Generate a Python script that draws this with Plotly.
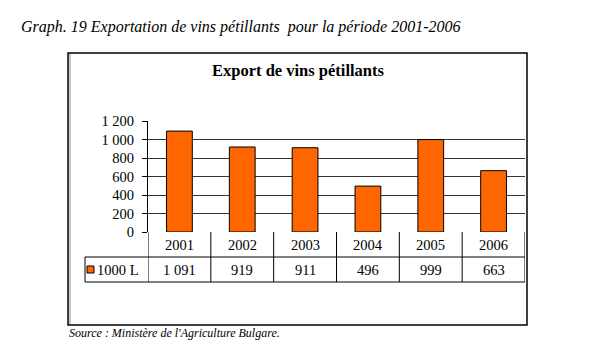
import plotly.graph_objects as go

years = [2001, 2002, 2003, 2004, 2005, 2006]
values = [1091, 919, 911, 496, 999, 663]
value_labels = ["1 091", "919", "911", "496", "999", "663"]
ytick_vals = [0, 200, 400, 600, 800, 1000, 1200]
ytick_text = ["0", "200", "400", "600", "800", "1 000", "1 200"]
series_name = "1000 L"
chart_title = "Export de vins pétillants"
caption = "Graph. 19 Exportation de vins pétillants  pour la période 2001-2006"
source = "Source : Ministère de l'Agriculture Bulgare."

OFF = 8  # page body margin
W, H = 595 - OFF, 355 - OFF
L, R, T, B = 148, 525, 121, 232   # plot area in reference pixels
pw, ph = R - L, B - T

def px(x):
    return (x - L) / pw

def py(y):
    return (B - y) / ph

FONT = "Liberation Serif"
ORANGE = "#FF6600"

fig = go.Figure()
fig.add_trace(go.Bar(x=years, y=values, width=0.41, marker=dict(color=ORANGE, line=dict(color="black", width=1)),
                     name=series_name, showlegend=False))

shapes = []
shapes.append(dict(type="rect", xref="paper", yref="paper", x0=px(68), x1=px(527), y0=py(325), y1=py(53),
                   line=dict(color="black", width=1.5), layer="below"))
shapes.append(dict(type="line", xref="paper", yref="paper", x0=px(70), x1=px(70), y0=py(324), y1=py(54),
                   line=dict(color="#b0b0b0", width=1.5)))
y_row1 = py(257)
y_row2 = py(282)
x_first = years[0] - 0.5
x_last = years[-1] + 0.5
shapes.append(dict(type="line", xref="paper", yref="paper", x0=px(85), x1=1.0, y0=y_row1, y1=y_row1,
                   line=dict(color="black", width=1)))
shapes.append(dict(type="line", xref="paper", yref="paper", x0=px(85), x1=1.0, y0=y_row2, y1=y_row2,
                   line=dict(color="black", width=1)))
shapes.append(dict(type="line", xref="paper", yref="paper", x0=px(85), x1=px(85), y0=y_row2, y1=y_row1,
                   line=dict(color="black", width=1)))
for yr in years:
    xb = yr - 0.5
    shapes.append(dict(type="line", xref="x", yref="paper", x0=xb, x1=xb, y0=y_row2, y1=0,
                       line=dict(color="black", width=1)))
shapes.append(dict(type="line", xref="x", yref="paper", x0=x_last, x1=x_last, y0=y_row2, y1=0,
                   line=dict(color="black", width=1)))
shapes.append(dict(type="rect", xref="paper", yref="paper", x0=px(87), x1=px(94), y0=py(273), y1=py(266),
                   fillcolor=ORANGE, line=dict(color="black", width=1)))

annotations = []
for yr, lab in zip(years, value_labels):
    annotations.append(dict(x=yr, y=(y_row1 + 0) / 2, xref="x", yref="paper", text=str(yr), showarrow=False,
                            font=dict(family=FONT, size=14.5, color="black"), xanchor="center", yanchor="middle"))
    annotations.append(dict(x=yr, y=(y_row1 + y_row2) / 2, xref="x", yref="paper", text=lab, showarrow=False,
                            font=dict(family=FONT, size=14.5, color="black"), xanchor="center", yanchor="middle"))
annotations.append(dict(x=px(95), y=(y_row1 + y_row2) / 2, xref="paper", yref="paper", text=series_name,
                        showarrow=False, font=dict(family=FONT, size=14.5, color="black"),
                        xanchor="left", yanchor="middle"))
annotations.append(dict(x=px(298), y=py(70), xref="paper", yref="paper", text="<b>" + chart_title + "</b>",
                        showarrow=False, font=dict(family=FONT, size=16.5, color="black"),
                        xanchor="center", yanchor="middle"))
annotations.append(dict(x=px(19), y=py(27), xref="paper", yref="paper", text="<i>" + caption + "</i>",
                        showarrow=False, font=dict(family=FONT, size=16, color="black"),
                        xanchor="left", yanchor="middle"))
annotations.append(dict(x=px(67), y=py(333), xref="paper", yref="paper", text="<i>" + source + "</i>",
                        showarrow=False, font=dict(family=FONT, size=12, color="black"),
                        xanchor="left", yanchor="middle"))

fig.update_layout(
    width=W, height=H,
    margin=dict(l=L - OFF, r=W - (R - OFF), t=T - OFF, b=H - (B - OFF), pad=0),
    paper_bgcolor="white", plot_bgcolor="white",
    shapes=shapes, annotations=annotations,
    showlegend=False,
    xaxis=dict(range=[x_first, x_last], showticklabels=False, showgrid=False, zeroline=False,
               showline=False, ticks="", fixedrange=True),
    yaxis=dict(range=[0, 1200], tickvals=ytick_vals, ticktext=ytick_text, showgrid=True,
               gridcolor="#333333", gridwidth=1, zeroline=False, showline=True, linecolor="black",
               linewidth=1, ticks="outside", ticklen=5, tickcolor="black", ticklabelstandoff=5,
               tickfont=dict(family=FONT, size=14.5, color="black")),
)

fig.write_html("out.html")
